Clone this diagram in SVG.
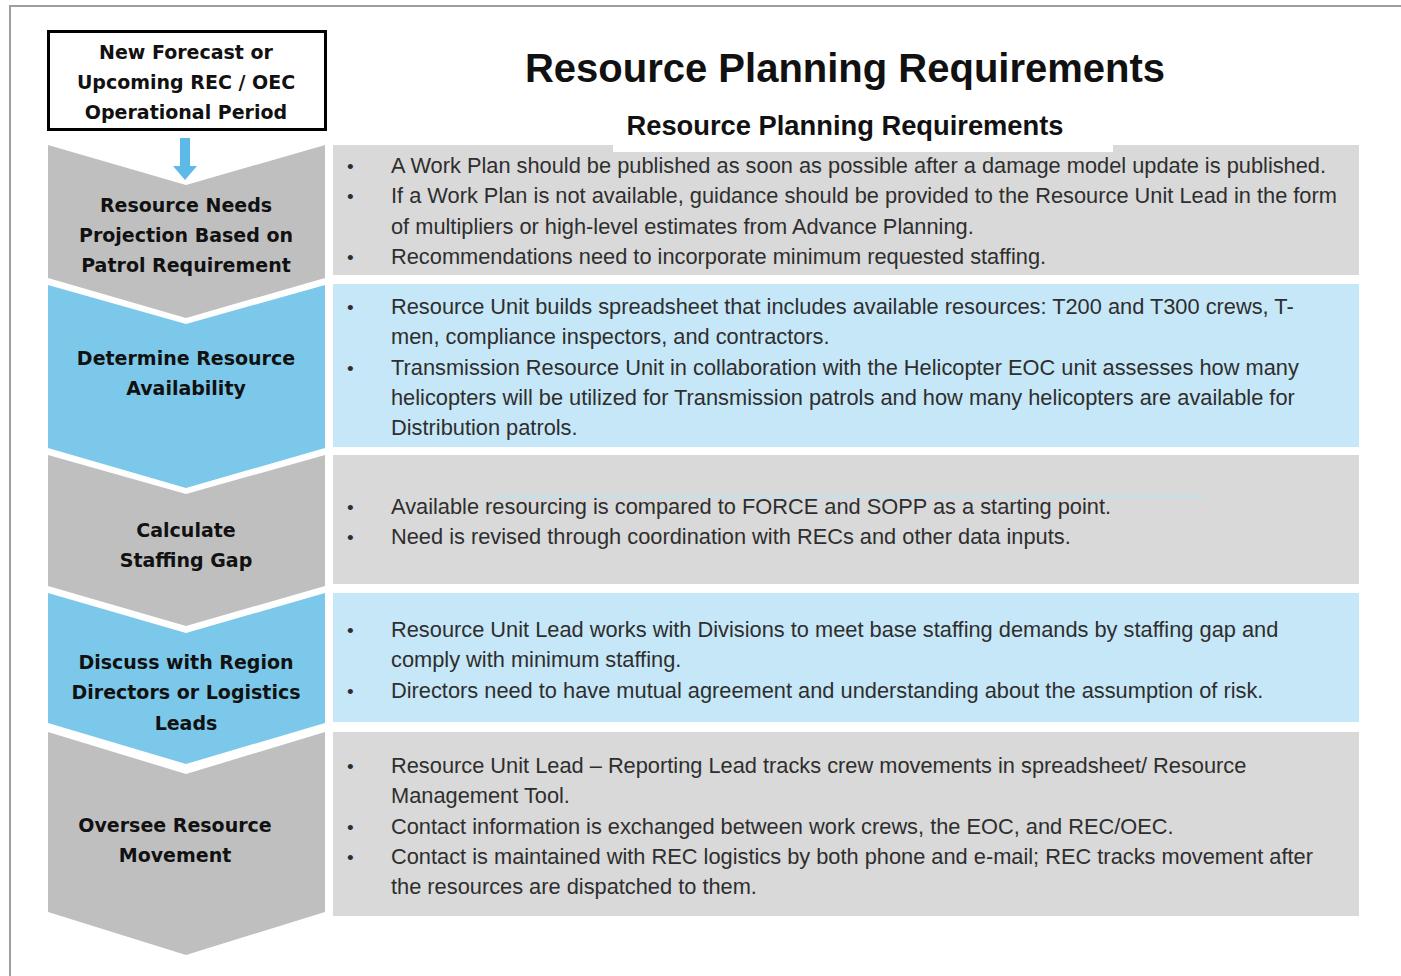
<svg xmlns="http://www.w3.org/2000/svg" width="1401" height="976" viewBox="0 0 1401 976">
<style>
.cg{fill:#bfbfbf}
.cb{fill:#7cc8ea}
.pg{fill:#d9d9d9}
.pb{fill:#c6e7f7}
.lbl{font-family:"DejaVu Sans","Verdana",sans-serif;font-weight:bold;font-size:19px;fill:#111;text-anchor:middle}
.txt{font-family:"Liberation Sans",Arial,sans-serif;font-size:21.8px;fill:#2e2e2e}
.bul{font-family:"Liberation Sans",Arial,sans-serif;font-size:19px;fill:#2e2e2e}
</style>
<rect x="0" y="0" width="1401" height="976" fill="#ffffff"/>
<path d="M10 976 V6 H1401" fill="none" stroke="#9e9e9e" stroke-width="2"/>

<g id="title">
<text x="845" y="82" font-family="'Liberation Sans',Arial,sans-serif" font-weight="bold" font-size="40" fill="#111" text-anchor="middle">Resource Planning Requirements</text>
</g>

<g id="start">
<rect x="48.5" y="31.5" width="277" height="98" fill="#fff" stroke="#000" stroke-width="3"/>
<text class="lbl" x="186" y="59">New Forecast or</text>
<text class="lbl" x="186" y="89">Upcoming REC / OEC</text>
<text class="lbl" x="186" y="119">Operational Period</text>
</g>

<g id="panels">
<rect id="p1" class="pg" x="333" y="145" width="1026" height="130"/>
<rect id="p2" class="pb" x="333" y="284" width="1026" height="163"/>
<rect id="p3" class="pg" x="333" y="455" width="1026" height="129"/>
<rect id="p4" class="pb" x="333" y="593" width="1026" height="129"/>
<rect id="p5" class="pg" x="333" y="732" width="1026" height="184"/>
<rect x="495" y="495" width="710" height="3" fill="#c8dfe8"/>
</g>

<g id="subtitle">
<rect x="613" y="105" width="500" height="47" fill="#fff"/>
<text x="845" y="135" font-family="'Liberation Sans',Arial,sans-serif" font-weight="bold" font-size="27" fill="#111" text-anchor="middle" textLength="437" lengthAdjust="spacingAndGlyphs">Resource Planning Requirements</text>
</g>

<g id="step1">
<polygon class="cg" points="48,145 186,185 325,145 325,278 186,318 48,278"/>
<text class="lbl" x="186" y="212">Resource Needs</text>
<text class="lbl" x="186" y="242">Projection Based on</text>
<text class="lbl" x="186" y="272">Patrol Requirement</text>
</g>
<g id="step2">
<polygon class="cb" points="48,285 186,324 325,285 325,448 186,488 48,448"/>
<text class="lbl" x="186" y="365">Determine Resource</text>
<text class="lbl" x="186" y="395">Availability</text>
</g>
<g id="step3">
<polygon class="cg" points="48,455 186,494 325,455 325,586 186,626 48,586"/>
<text class="lbl" x="186" y="537">Calculate</text>
<text class="lbl" x="186" y="567">Staffing Gap</text>
</g>
<g id="step4">
<polygon class="cb" points="48,593 186,633 325,593 325,723 186,764 48,723"/>
<text class="lbl" x="186" y="669">Discuss with Region</text>
<text class="lbl" x="186" y="699">Directors or Logistics</text>
<text class="lbl" x="186" y="730">Leads</text>
</g>
<g id="step5">
<polygon class="cg" points="48,732 186,774 325,732 325,912 186,955 48,912"/>
<text class="lbl" x="175" y="832">Oversee Resource</text>
<text class="lbl" x="175" y="862">Movement</text>
</g>

<g id="connectors">
<polygon points="180,138 190,138 190,166 197,166 185,180 173,166 180,166" fill="#5cb9e8"/>
</g>

<g id="text1">
<text class="bul" x="347" y="173">•</text>
<text class="txt" x="391" y="173">A Work Plan should be published as soon as possible after a damage model update is published.</text>
<text class="bul" x="347" y="203">•</text>
<text class="txt" x="391" y="203">If a Work Plan is not available, guidance should be provided to the Resource Unit Lead in the form</text>
<text class="txt" x="391" y="234">of multipliers or high-level estimates from Advance Planning.</text>
<text class="bul" x="347" y="264">•</text>
<text class="txt" x="391" y="264">Recommendations need to incorporate minimum requested staffing.</text>
</g>
<g id="text2">
<text class="bul" x="347" y="314">•</text>
<text class="txt" x="391" y="314">Resource Unit builds spreadsheet that includes available resources: T200 and T300 crews, T-</text>
<text class="txt" x="391" y="344">men, compliance inspectors, and contractors.</text>
<text class="bul" x="347" y="375">•</text>
<text class="txt" x="391" y="375">Transmission Resource Unit in collaboration with the Helicopter EOC unit assesses how many</text>
<text class="txt" x="391" y="405">helicopters will be utilized for Transmission patrols and how many helicopters are available for</text>
<text class="txt" x="391" y="435">Distribution patrols.</text>
</g>
<g id="text3">
<text class="bul" x="347" y="514">•</text>
<text class="txt" x="391" y="514">Available resourcing is compared to FORCE and SOPP as a starting point.</text>
<text class="bul" x="347" y="544">•</text>
<text class="txt" x="391" y="544">Need is revised through coordination with RECs and other data inputs.</text>
</g>
<g id="text4">
<text class="bul" x="347" y="637">•</text>
<text class="txt" x="391" y="637">Resource Unit Lead works with Divisions to meet base staffing demands by staffing gap and</text>
<text class="txt" x="391" y="667">comply with minimum staffing.</text>
<text class="bul" x="347" y="698">•</text>
<text class="txt" x="391" y="698">Directors need to have mutual agreement and understanding about the assumption of risk.</text>
</g>
<g id="text5">
<text class="bul" x="347" y="773">•</text>
<text class="txt" x="391" y="773">Resource Unit Lead – Reporting Lead tracks crew movements in spreadsheet/ Resource</text>
<text class="txt" x="391" y="803">Management Tool.</text>
<text class="bul" x="347" y="834">•</text>
<text class="txt" x="391" y="834">Contact information is exchanged between work crews, the EOC, and REC/OEC.</text>
<text class="bul" x="347" y="864">•</text>
<text class="txt" x="391" y="864">Contact is maintained with REC logistics by both phone and e-mail; REC tracks movement after</text>
<text class="txt" x="391" y="894">the resources are dispatched to them.</text>
</g>
</svg>
